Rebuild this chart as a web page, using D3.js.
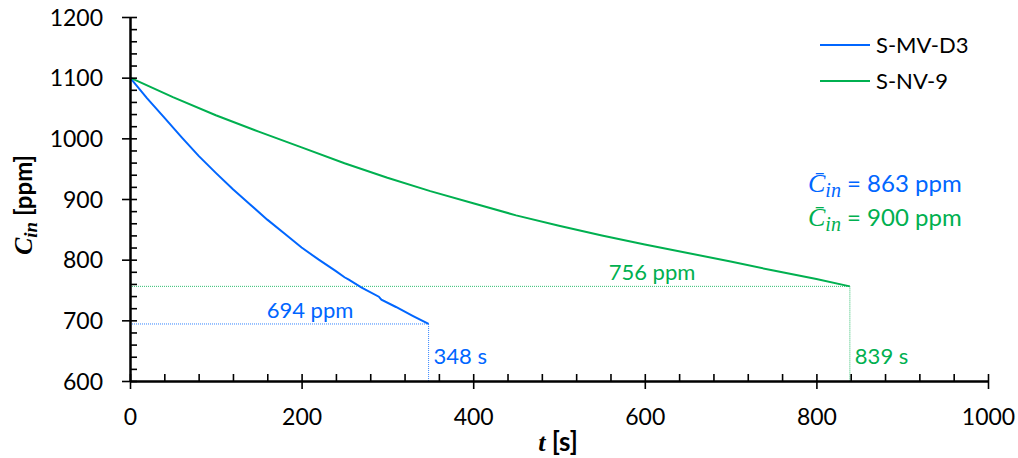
<!DOCTYPE html>
<html>
<head>
<meta charset="utf-8">
<script src="https://cdn.jsdelivr.net/npm/d3@7"></script>
<style>
  body { margin: 0; background: #fff; }
  text { font-family: Lato, "Open Sans", sans-serif; }
</style>
</head>
<body>
<div id="chart"></div>
<script>
// time [s] and concentration [ppm]
const blueT = [0, 20, 40, 60, 80, 100, 120, 140, 160, 180, 200, 220, 240, 250, 255, 270, 290, 293, 310, 330, 348];
const blueC = [1100, 1066, 1034, 1002, 971, 943, 916, 891, 866, 843, 820, 800, 781, 771, 767, 754, 739, 734, 722, 707, 694];
const greenT = [0, 50, 100, 150, 200, 250, 300, 350, 400, 450, 500, 550, 600, 650, 700, 750, 800, 839];
const greenC = [1100, 1068, 1038, 1011, 985, 959, 935, 913, 893, 873, 856, 840, 825, 811, 797, 782, 768, 756];

const seriesNames = ["S-MV-D3", "S-NV-9"];
const seriesColors = ["#0066ff", "#00b050"];
const endT = [348, 839];
const endC = [694, 756];
const meanC = [863, 900];

const xTicks = [0, 200, 400, 600, 800, 1000];
const yTicks = [600, 700, 800, 900, 1000, 1100, 1200];

const W = 1018, H = 458;
const svg = d3.select("#chart").append("svg")
    .attr("width", W).attr("height", H);

const x = d3.scaleLinear().domain([0, 1000]).range([130, 988]);
const y = d3.scaleLinear().domain([600, 1200]).range([381, 17]);

// guide lines (dotted)
[0, 1].forEach(i => {
    const g = svg.append("g")
        .attr("stroke", seriesColors[i])
        .attr("stroke-width", 1)
        .attr("stroke-dasharray", "1,1")
        .attr("opacity", 0.8);
    g.append("line")
        .attr("x1", x(0)).attr("x2", x(endT[i]))
        .attr("y1", y(endC[i])).attr("y2", y(endC[i]));
    g.append("line")
        .attr("x1", x(endT[i])).attr("x2", x(endT[i]))
        .attr("y1", y(endC[i])).attr("y2", y(600));
});

// curves
const line = d3.line().x(d => x(d[0])).y(d => y(d[1]));
const curves = [d3.zip(blueT, blueC), d3.zip(greenT, greenC)];
curves.forEach((d, i) => {
    svg.append("path")
        .datum(d)
        .attr("fill", "none")
        .attr("stroke", seriesColors[i])
        .attr("stroke-width", 2)
        .attr("d", line);
});

// axes: outward major ticks with labels + inward ticks
const fmt = d3.format("d");
const xAxis = svg.append("g")
    .attr("transform", `translate(0,${y(600)})`)
    .call(d3.axisBottom(x).tickValues(xTicks).tickSize(8).tickSizeOuter(0).tickFormat(fmt));
svg.append("g")
    .attr("transform", `translate(0,${y(600)})`)
    .call(d3.axisTop(x).tickValues(d3.range(0, 1001, 40)).tickSize(7).tickSizeOuter(0).tickFormat(""));
const yAxis = svg.append("g")
    .attr("transform", `translate(${x(0)},0)`)
    .call(d3.axisLeft(y).tickValues(yTicks).tickSize(8).tickSizeOuter(0).tickFormat(fmt));
svg.append("g")
    .attr("transform", `translate(${x(0)},0)`)
    .call(d3.axisRight(y).tickValues(d3.range(600, 1201, 20)).tickSize(7).tickSizeOuter(0).tickFormat(""));

svg.selectAll(".domain").attr("stroke", "#000").attr("stroke-width", 2);
svg.selectAll(".tick line").attr("stroke", "#000").attr("stroke-width", 1.6);

xAxis.selectAll("text")
    .attr("y", 44).attr("dy", null)
    .attr("font-size", 23).attr("fill", "#000")
    .style("font-family", "Lato, sans-serif");
yAxis.selectAll("text")
    .attr("x", -27).attr("dy", "0.36em")
    .attr("font-size", 23).attr("fill", "#000")
    .style("font-family", "Lato, sans-serif");

// axis titles
const xt = svg.append("text")
    .attr("x", 558).attr("y", 451)
    .attr("text-anchor", "middle")
    .attr("font-size", 26).attr("font-weight", "bold");
xt.append("tspan").text("t")
    .style("font-family", "'Liberation Serif', serif").attr("font-style", "italic");
xt.append("tspan").text(" [s]");

const yt = svg.append("text")
    .attr("transform", "translate(32,205) rotate(-90)")
    .attr("text-anchor", "middle")
    .attr("font-size", 24).attr("font-weight", "bold");
yt.append("tspan").text("C")
    .style("font-family", "'Liberation Serif', serif").attr("font-style", "italic").attr("font-size", 26);
yt.append("tspan").text("in")
    .style("font-family", "'Liberation Serif', serif").attr("font-style", "italic")
    .attr("font-size", 19).attr("dy", 5);
yt.append("tspan").text(" [ppm]").attr("dy", -5);

// legend
seriesNames.forEach((name, i) => {
    const ly = 45 + i * 36;
    svg.append("line")
        .attr("x1", 820).attr("x2", 870)
        .attr("y1", ly).attr("y2", ly)
        .attr("stroke", seriesColors[i]).attr("stroke-width", 2);
    svg.append("text")
        .attr("x", 876).attr("y", ly + 8)
        .attr("font-size", 22).attr("fill", "#000")
        .text(name);
});

// mean annotations
meanC.forEach((m, i) => {
    const t = svg.append("text")
        .attr("x", 808).attr("y", 192 + i * 34)
        .attr("font-size", 24).attr("fill", seriesColors[i]);
    t.append("tspan").text("C\u0304")
        .style("font-family", "'Liberation Serif', serif").attr("font-style", "italic").attr("font-size", 26);
    t.append("tspan").text("in")
        .style("font-family", "'Liberation Serif', serif").attr("font-style", "italic")
        .attr("font-size", 20).attr("dy", 5);
    t.append("tspan").text(" = " + m + " ppm").attr("dy", -5);
});

// end-point labels
[0, 1].forEach(i => {
    svg.append("text")
        .attr("x", i === 0 ? 310 : 652).attr("y", y(endC[i]) - 6)
        .attr("text-anchor", "middle")
        .attr("font-size", 22).attr("fill", seriesColors[i])
        .text(endC[i] + " ppm");
    svg.append("text")
        .attr("x", x(endT[i]) + 5).attr("y", 364)
        .attr("font-size", 22).attr("fill", seriesColors[i])
        .text(endT[i] + " s");
});
</script>
</body>
</html>
